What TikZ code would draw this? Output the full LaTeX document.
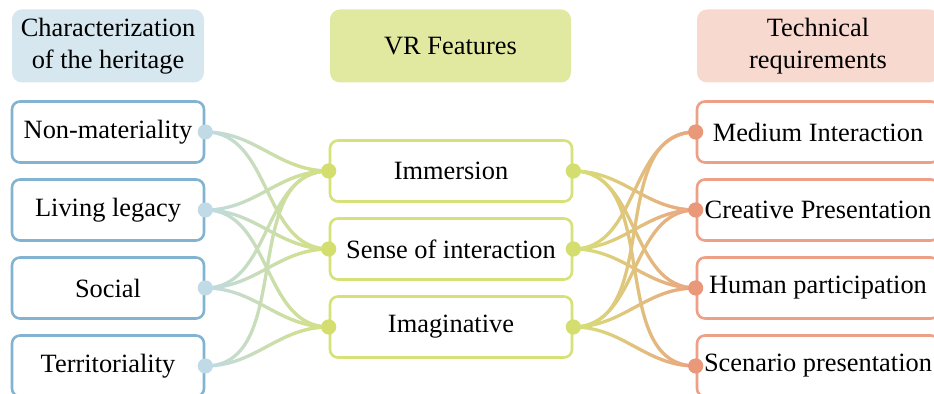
\documentclass[tikz,border=0pt]{standalone}
\usepackage{fontspec}
\setmainfont{Liberation Serif}
\usetikzlibrary{fadings}
\definecolor{blue1}{RGB}{214, 231, 239}
\definecolor{blue2}{RGB}{130, 180, 210}
\definecolor{blue3}{RGB}{192, 218, 230}
\definecolor{green1}{RGB}{225, 233, 160}
\definecolor{green2}{RGB}{214, 226, 120}
\definecolor{green3}{RGB}{212, 222, 110}
\definecolor{red1}{RGB}{248, 217, 208}
\definecolor{red2}{RGB}{238, 160, 134}
\definecolor{red3}{RGB}{233, 152, 122}
\tikzfading[name=faderight, left color=transparent!100, right color=transparent!0]

\begin{document}
\begin{tikzpicture}[x=5pt, y=5pt, line width=1.3pt,
  font=\fontsize{13.2}{16}\selectfont,
  head/.style={rectangle, rounded corners=5pt, align=center, minimum height=36.5pt},
  item/.style={rectangle, rounded corners=4pt, draw, minimum height=30.5pt},
  link/.style={line width=1.6pt}]
  \useasboundingbox (0,0) rectangle (93.4,39.4);

  \node[head, fill=blue1, minimum width=96pt] (h1) at (10.8,34.8) {Characterization\\of the heritage};
  \node[head, fill=green1, minimum width=120.5pt] (h2) at (45.05,34.8) {VR Features};
  \node[head, fill=red1, minimum width=121pt] (h3) at (81.8,34.8) {Technical\\requirements};

  \node[item, draw=blue2, minimum width=96pt] (n1) at (10.8,26.2) {Non-materiality};
  \node[item, draw=blue2, minimum width=96pt] (n2) at (10.8,18.4) {Living legacy};
  \node[item, draw=blue2, minimum width=96pt] (n3) at (10.8,10.6) {Social};
  \node[item, draw=blue2, minimum width=96pt] (n4) at (10.8,2.8) {Territoriality};

  \node[item, draw=green2, minimum width=121pt] (m1) at (45.1,22.3) {Immersion};
  \node[item, draw=green2, minimum width=121pt] (m2) at (45.1,14.5) {Sense of interaction};
  \node[item, draw=green2, minimum width=121pt] (m3) at (45.1,6.7) {Imaginative};

  \node[item, draw=red2, minimum width=121pt] (t1) at (81.8,26.2) {Medium Interaction};
  \node[item, draw=red2, minimum width=121pt] (t2) at (81.8,18.4) {Creative Presentation};
  \node[item, draw=red2, minimum width=121pt] (t3) at (81.8,10.6) {Human participation};
  \node[item, draw=red2, minimum width=121pt] (t4) at (81.8,2.8) {Scenario presentation};

  \foreach \from/\to in {n1/m1, n1/m2, n2/m1, n2/m2, n2/m3, n3/m1, n3/m2, n3/m3, n4/m1, n4/m3}
  {
    \draw[link, blue3] (\from.east) to[out=0, in=180] (\to.west);
    \draw[link, green2, path fading=faderight] (\from.east) to[out=0, in=180] (\to.west);
  }
  \foreach \from/\to in {m1/t2, m1/t3, m1/t4, m2/t1, m2/t2, m2/t3, m3/t1, m3/t2, m3/t3, m3/t4}
  {
    \draw[link, green2] (\from.east) to[out=0, in=180] (\to.west);
    \draw[link, red2, path fading=faderight] (\from.east) to[out=0, in=180] (\to.west);
  }

  \foreach \n in {n1, n2, n3, n4}
    \fill[blue3] (\n.east) circle (3.8pt);
  \foreach \n in {m1, m2, m3}
  {
    \fill[green3] (\n.west) circle (3.8pt);
    \fill[green3] (\n.east) circle (3.8pt);
  }
  \foreach \n in {t1, t2, t3, t4}
    \fill[red3] (\n.west) circle (3.8pt);
\end{tikzpicture}
\end{document}
